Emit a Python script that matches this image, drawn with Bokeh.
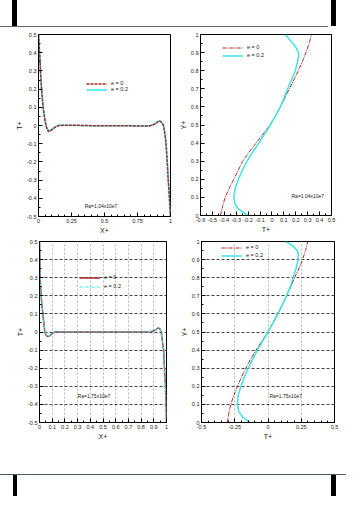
from bokeh.plotting import figure
from bokeh.models import Range1d, FixedTicker, Legend, LegendItem, Label, Div
from bokeh.layouts import column, row
from bokeh.embed import file_html
from bokeh.resources import INLINE

# ---------------- data ----------------
series_labels = ["e = 0", "e = 0.2"]

# top-left: T+ vs X+ (Ra=1.04x10e7)
tl_x_e0 = [0.0, 0.005, 0.01, 0.016, 0.023, 0.03, 0.035, 0.042, 0.048, 0.056, 0.065, 0.076, 0.09, 0.106, 0.13, 0.157, 0.2, 0.3, 0.4, 0.5, 0.6, 0.7, 0.8, 0.84, 0.878, 0.9, 0.916, 0.934, 0.947, 0.96, 0.967, 0.975, 0.982, 0.992, 1.0]
tl_t_e0 = [0.5, 0.44, 0.38, 0.29, 0.2, 0.14, 0.1, 0.06, 0.035, 0.0, -0.02, -0.033, -0.03, -0.02, -0.008, 0.0, 0.002, 0.001, -0.001, -0.002, -0.002, -0.002, -0.003, -0.003, 0.006, 0.018, 0.025, 0.016, 0.0, -0.057, -0.11, -0.2, -0.29, -0.4, -0.5]
tl_x_e2 = [0.0, 0.005, 0.01, 0.016, 0.023, 0.03, 0.036, 0.043, 0.05, 0.058, 0.067, 0.078, 0.092, 0.108, 0.13, 0.157, 0.2, 0.3, 0.4, 0.5, 0.6, 0.7, 0.8, 0.84, 0.878, 0.9, 0.918, 0.935, 0.948, 0.96, 0.968, 0.976, 0.983, 0.992, 1.0]
tl_t_e2 = [0.5, 0.43, 0.37, 0.28, 0.2, 0.14, 0.1, 0.06, 0.03, 0.0, -0.018, -0.028, -0.027, -0.018, -0.006, 0.001, 0.002, 0.0, -0.002, -0.002, -0.002, -0.002, -0.003, -0.002, 0.008, 0.02, 0.026, 0.016, 0.0, -0.06, -0.115, -0.2, -0.3, -0.4, -0.5]

# top-right: Y+ vs T+ (Ra=1.04x10e7)
tr_y_e0 = [0.0, 0.05, 0.1, 0.15, 0.2, 0.25, 0.3, 0.35, 0.4, 0.45, 0.5, 0.55, 0.6, 0.65, 0.7, 0.75, 0.8, 0.85, 0.9, 0.95, 1.0]
tr_t_e0 = [-0.432, -0.415, -0.393, -0.36, -0.32, -0.283, -0.245, -0.192, -0.134, -0.075, -0.016, 0.029, 0.07, 0.109, 0.146, 0.184, 0.221, 0.255, 0.285, 0.312, 0.333]
tr_y_e2 = [0.0, 0.018, 0.037, 0.064, 0.1, 0.147, 0.2, 0.25, 0.3, 0.35, 0.4, 0.45, 0.5, 0.55, 0.6, 0.65, 0.7, 0.75, 0.8, 0.85, 0.884, 0.9, 0.93, 0.958, 0.985, 1.0]
tr_t_e2 = [-0.198, -0.245, -0.282, -0.31, -0.32, -0.31, -0.282, -0.248, -0.209, -0.162, -0.111, -0.062, -0.013, 0.03, 0.07, 0.102, 0.132, 0.165, 0.196, 0.215, 0.225, 0.224, 0.2, 0.165, 0.132, 0.112]

# bottom-left: T+ vs X+ (Ra=1.75x10e7)
bl_x = [0.0, 0.002, 0.003, 0.005, 0.009, 0.013, 0.019, 0.026, 0.034, 0.042, 0.052, 0.065, 0.078, 0.091, 0.105, 0.117, 0.14, 0.2, 0.3, 0.4, 0.5, 0.6, 0.7, 0.8, 0.835, 0.865, 0.888, 0.914, 0.932, 0.948, 0.958, 0.966, 0.977, 0.984, 0.992, 0.997, 1.0]
bl_t_e0 = [0.5, 0.45, 0.4, 0.3, 0.25, 0.2, 0.15, 0.1, 0.05, 0.0, -0.018, -0.024, -0.022, -0.015, -0.006, 0.0, 0.001, 0.0, 0.0, 0.0, 0.0, 0.0, 0.0, 0.0, 0.0, 0.001, 0.004, 0.011, 0.022, 0.018, 0.0, -0.04, -0.1, -0.2, -0.3, -0.4, -0.5]
bl_t_e2 = [0.5, 0.44, 0.39, 0.3, 0.25, 0.2, 0.15, 0.1, 0.05, 0.0, -0.017, -0.022, -0.02, -0.013, -0.005, 0.0, 0.001, 0.0, 0.0, 0.0, 0.0, 0.0, 0.0, 0.0, 0.0, 0.002, 0.005, 0.012, 0.021, 0.017, 0.0, -0.042, -0.1, -0.2, -0.3, -0.4, -0.5]

# bottom-right: Y+ vs T+ (Ra=1.75x10e7)
br_y_e0 = [0.0, 0.05, 0.1, 0.15, 0.2, 0.25, 0.3, 0.35, 0.4, 0.45, 0.5, 0.55, 0.6, 0.65, 0.7, 0.75, 0.8, 0.85, 0.9, 0.95, 1.0]
br_t_e0 = [-0.305, -0.295, -0.28, -0.257, -0.23, -0.2, -0.167, -0.13, -0.09, -0.046, 0.0, 0.036, 0.07, 0.106, 0.14, 0.172, 0.2, 0.232, 0.26, 0.282, 0.30]
br_y_e2 = [0.0, 0.015, 0.03, 0.06, 0.1, 0.15, 0.2, 0.25, 0.3, 0.35, 0.4, 0.45, 0.5, 0.55, 0.6, 0.65, 0.7, 0.75, 0.8, 0.85, 0.9, 0.93, 0.95, 0.98, 1.0]
br_t_e2 = [-0.134, -0.165, -0.19, -0.22, -0.23, -0.224, -0.204, -0.178, -0.149, -0.115, -0.079, -0.04, 0.0, 0.038, 0.075, 0.108, 0.14, 0.167, 0.19, 0.21, 0.227, 0.228, 0.22, 0.18, 0.134]

ra_texts = ["Ra=1.04x10e7", "Ra=1.04x10e7", "Ra=1.75x10e7", "Ra=1.75x10e7"]

# ticks
t_ticks = [-0.5, -0.4, -0.3, -0.2, -0.1, 0, 0.1, 0.2, 0.3, 0.4, 0.5]
t_labels = ["-0.5", "-0.4", "-0.3", "-0.2", "-0.1", "0", "0.1", "0.2", "0.3", "0.4", "0.5"]
y_ticks = [0, 0.1, 0.2, 0.3, 0.4, 0.5, 0.6, 0.7, 0.8, 0.9, 1]
y_labels = ["0", "0.1", "0.2", "0.3", "0.4", "0.5", "0.6", "0.7", "0.8", "0.9", "1"]
tl_x_ticks = [0, 0.25, 0.5, 0.75, 1]
tl_x_labels = ["0", "0.25", "0.5", "0.75", "1"]
tr_x_ticks = [-0.6, -0.5, -0.4, -0.3, -0.2, -0.1, 0, 0.1, 0.2, 0.3, 0.4, 0.5]
tr_x_labels = ["-0.6", "-0.5", "-0.4", "-0.3", "-0.2", "-0.1", "0", "0.1", "0.2", "0.3", "0.4", "0.5"]
bl_x_ticks = [0, 0.1, 0.2, 0.3, 0.4, 0.5, 0.6, 0.7, 0.8, 0.9, 1]
bl_x_labels = ["0", "0.1", "0.2", "0.3", "0.4", "0.5", "0.6", "0.7", "0.8", "0.9", "1"]
br_x_ticks = [-0.5, -0.25, 0, 0.25, 0.5]
br_x_labels = ["-0.5", "-0.25", "0", "0.25", "0.5"]

RED = "#a52a2a"
CYAN = "#3fe3e3"
FONT = "Liberation Sans"


def minor(a, b, step):
    n = int(round((b - a) / step))
    return [round(a + i * step, 4) for i in range(n + 1)]


def make_fig(xr, yr, fw, fh, bl, br, bt, bb):
    p = figure(x_range=Range1d(*xr), y_range=Range1d(*yr),
               frame_width=fw, frame_height=fh,
               min_border_left=bl, min_border_right=br,
               min_border_top=bt, min_border_bottom=bb,
               output_backend="svg", toolbar_location=None,
               background_fill_color="white", border_fill_color="white",
               outline_line_color="black", outline_line_width=1)
    return p


def style(p, xticks, xlabels, xminor, yticks, ylabels, yminor, xlab, ylab, grid=False):
    p.xaxis.ticker = FixedTicker(ticks=xticks, minor_ticks=xminor)
    p.yaxis.ticker = FixedTicker(ticks=yticks, minor_ticks=yminor)
    p.xaxis.major_label_overrides = dict(zip(xticks, xlabels))
    p.yaxis.major_label_overrides = dict(zip(yticks, ylabels))
    p.xaxis.axis_label = xlab
    p.yaxis.axis_label = ylab
    for ax in (p.xaxis[0], p.yaxis[0]):
        ax.major_tick_in = 4
        ax.major_tick_out = 0
        ax.minor_tick_in = 2
        ax.minor_tick_out = 0
        ax.major_tick_line_color = "black"
        ax.minor_tick_line_color = "black"
        ax.axis_line_color = "black"
        ax.major_label_text_font = FONT
        ax.major_label_text_font_size = "5.5px"
        ax.major_label_text_color = "#222222"
        ax.major_label_standoff = 2
        ax.axis_label_text_font = FONT
        ax.axis_label_text_font_size = "7px"
        ax.axis_label_text_font_style = "normal"
        ax.axis_label_text_color = "#222222"
        ax.axis_label_standoff = 1
    p.yaxis.major_label_orientation = "horizontal"
    if grid:
        p.xgrid.ticker = FixedTicker(ticks=xticks)
        p.ygrid.ticker = FixedTicker(ticks=yticks)
        p.xgrid.grid_line_color = "#b8b8b8"
        p.xgrid.grid_line_dash = "2 2"
        p.xgrid.grid_line_width = 1
        p.ygrid.grid_line_color = "#444444"
        p.ygrid.grid_line_dash = "3 2"
        p.ygrid.grid_line_width = 1
    else:
        p.xgrid.grid_line_color = None
        p.ygrid.grid_line_color = None


def add_legend(p, items, loc, spacing):
    lg = Legend(items=items, location=loc, orientation="vertical",
                glyph_width=21, glyph_height=5, label_height=5,
                label_text_font=FONT, label_text_font_size="5.5px",
                label_text_color="#222222", label_standoff=4,
                spacing=spacing, padding=0, margin=0,
                border_line_color=None, background_fill_alpha=0)
    p.add_layout(lg)


def add_ra(p, x, y, text):
    p.add_layout(Label(x=x, y=y, text=text, text_font=FONT, text_font_size="5px",
                       text_color="#222222", text_baseline="middle"))


# ---------------- top-left ----------------
p1 = make_fig((0, 1), (-0.5, 0.5), 132, 182, 38, 6, 7, 20)
style(p1, tl_x_ticks, tl_x_labels, minor(0, 1, 0.05),
      t_ticks, t_labels, minor(-0.5, 0.5, 0.05), "X+", "T+")
c1 = p1.line(tl_x_e2, tl_t_e2, line_color=CYAN, line_width=1.5)
r1 = p1.line(tl_x_e0, tl_t_e0, line_color=RED, line_width=1.5, line_dash="3 1")
add_legend(p1, [LegendItem(label=series_labels[0], renderers=[r1]),
                LegendItem(label=series_labels[1], renderers=[c1])], (48, 124), 0)
add_ra(p1, 0.35, -0.44, ra_texts[0])

# ---------------- top-right ----------------
p2 = make_fig((-0.6, 0.5), (0, 1), 131, 181, 22, 17, 7, 21)
style(p2, tr_x_ticks, tr_x_labels, minor(-0.6, 0.5, 0.05),
      y_ticks, y_labels, minor(0, 1, 0.05), "T+", "Y+")
r2 = p2.line(tr_t_e0, tr_y_e0, line_color=RED, line_width=1, line_dash="4 1 1 1")
c2 = p2.line(tr_t_e2, tr_y_e2, line_color=CYAN, line_width=1.5)
add_legend(p2, [LegendItem(label=series_labels[0], renderers=[r2]),
                LegendItem(label=series_labels[1], renderers=[c2])], (22, 157), 2)
add_ra(p2, 0.164, 0.11, ra_texts[1])

# ---------------- bottom-left ----------------
p3 = make_fig((0, 1), (-0.5, 0.5), 127, 181, 39, 11, 5, 48)
style(p3, bl_x_ticks, bl_x_labels, minor(0, 1, 0.05),
      t_ticks, t_labels, minor(-0.5, 0.5, 0.05), "X+", "T+", grid=True)
r3 = p3.line(bl_x, bl_t_e0, line_color=RED, line_width=1.5)
c3 = p3.line(bl_x, bl_t_e2, line_color=CYAN, line_width=1.2, line_dash="3 1 1 1")
add_legend(p3, [LegendItem(label=series_labels[0], renderers=[r3]),
                LegendItem(label=series_labels[1], renderers=[c3])], (40, 133), 3)
add_ra(p3, 0.3, -0.356, ra_texts[2])

# ---------------- bottom-right ----------------
p4 = make_fig((-0.5, 0.5), (0, 1), 133, 181, 22, 14, 5, 48)
style(p4, br_x_ticks, br_x_labels, minor(-0.5, 0.5, 0.05),
      y_ticks, y_labels, minor(0, 1, 0.05), "T+", "Y+", grid=True)
r4 = p4.line(br_t_e0, br_y_e0, line_color=RED, line_width=1, line_dash="4 1 1 1")
c4 = p4.line(br_t_e2, br_y_e2, line_color=CYAN, line_width=1.5)
add_legend(p4, [LegendItem(label=series_labels[0], renderers=[r4]),
                LegendItem(label=series_labels[1], renderers=[c4])], (20, 164), 2)
add_ra(p4, 0.011, 0.144, ra_texts[3])

# ---------------- page decorations ----------------
top_html = ('<div style="position:relative;width:346px;height:27px;overflow:hidden;">'
            '<div style="position:absolute;left:12px;top:0;width:5px;height:26px;background:#000;"></div>'
            '<div style="position:absolute;left:331px;top:0;width:5px;height:26px;background:#000;"></div>'
            '<div style="position:absolute;left:0;top:26px;width:328px;height:1px;background:#666;"></div>'
            '</div>')
bot_html = ('<div style="position:relative;width:346px;height:26px;overflow:hidden;">'
            '<div style="position:absolute;left:0;top:4px;width:346px;height:1px;background:#4a5a66;"></div>'
            '<div style="position:absolute;left:13px;top:5px;width:4px;height:21px;background:#000;"></div>'
            '<div style="position:absolute;left:331px;top:5px;width:5px;height:21px;background:#000;"></div>'
            '</div>')
top_div = Div(text=top_html, width=346, height=27, margin=0)
bot_div = Div(text=bot_html, width=346, height=26, margin=0)

layout = column(top_div,
                row(p1, p2, spacing=0, margin=0),
                row(p3, p4, spacing=0, margin=0),
                bot_div, spacing=0, margin=0)

open("out.html", "w").write(file_html(layout, INLINE))
